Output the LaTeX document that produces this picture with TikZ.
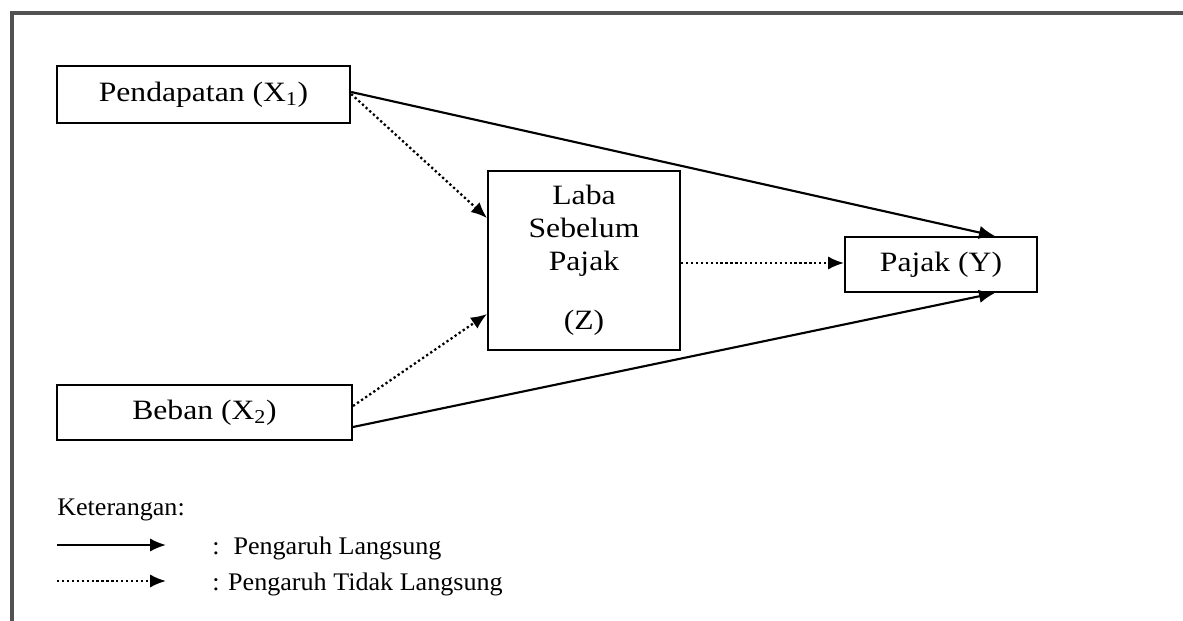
\documentclass[tikz,border=0pt]{standalone}
\usepackage{fontspec}
\setmainfont{Liberation Serif}
\newfontfamily\boxfont[FakeStretch=1.13]{Liberation Serif}
\newfontfamily\legfont[FakeStretch=1.03]{Liberation Serif}
\usetikzlibrary{arrows.meta}
\begin{document}
\begin{tikzpicture}[x=0.75pt,y=-0.75pt,
  box/.style={draw=black,line width=1.5pt,inner sep=0pt,font=\boxfont\fontsize{21}{25}\selectfont},
  solidarrow/.style={line width=1.6pt,-{Latex[length=12pt,width=10pt]}},
  dotarrow/.style={line width=1.7pt,dotted,-{Latex[length=12pt,width=10pt]}},
  legtext/.style={anchor=west,inner sep=0pt,font=\legfont\fontsize{19}{22}\selectfont}]
\useasboundingbox (0,0) rectangle (1183,621);
% frame
\draw[line width=3pt,color=black!68,line cap=rect] (1183,12.5) -- (11.5,12.5) -- (11.5,621);
% boxes
\node[box,minimum width=220pt,minimum height=42.75pt] (x1) at (203.5,94.5) {Pendapatan (X\textsubscript{1})};
\node[box,minimum width=221.25pt,minimum height=41.25pt] (x2) at (204.5,412.5) {Beban (X\textsubscript{2})};
\node[box,minimum width=144pt,minimum height=134.25pt,align=center,
      font=\boxfont\fontsize{21}{24.75}\selectfont] (z) at (584,260.5) {Laba\\Sebelum\\Pajak\\[19.5pt](Z)};
\node[box,minimum width=144pt,minimum height=41.25pt] (y) at (941,264.5) {Pajak (Y)};
% connectors
\draw[solidarrow] (x1.east |- 0,92) -- ([xshift=40.5pt]y.north);
\draw[solidarrow] (x2.east |- 0,427) -- ([xshift=40.5pt]y.south);
\draw[dotarrow] (x1.east |- 0,94) -- (z.west |- 0,218);
\draw[dotarrow] (x2.east |- 0,406) -- (z.west |- 0,314);
\draw[dotarrow] (z.east |- 0,263) -- (y.west |- 0,263);
% legend
\node[legtext] (ket) at (57,510) {Keterangan:};
\coordinate (l1a) at (57,545);
\coordinate (l1b) at (166,545);
\coordinate (l2a) at (57,581);
\coordinate (l2b) at (166,581);
\draw[solidarrow] (l1a) -- (l1b);
\draw[dotarrow] (l2a) -- (l2b);
\node[legtext] (t1) at (212,548) {:\hspace{4pt} Pengaruh Langsung};
\node[legtext] (t2) at (212,584) {: Pengaruh Tidak Langsung};
\end{tikzpicture}
\end{document}
